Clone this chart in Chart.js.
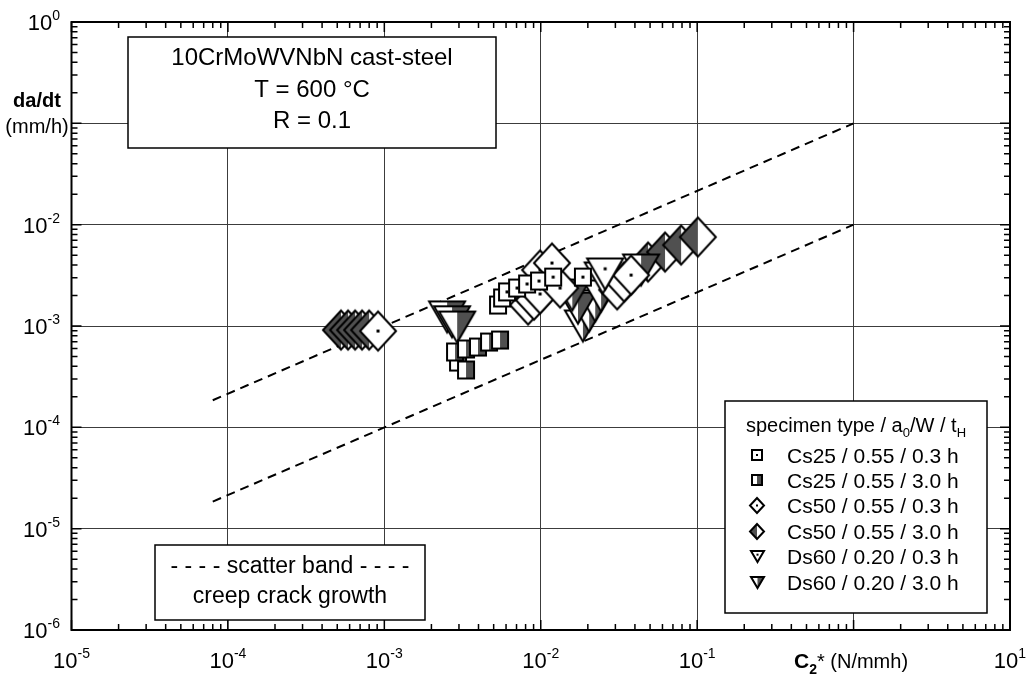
<!DOCTYPE html>
<html>
<head>
<meta charset="utf-8">
<script src="https://cdn.jsdelivr.net/npm/chart.js@4/dist/chart.umd.min.js"></script>
<style>
  html, body { margin: 0; padding: 0; background: #fff; }
  canvas { display: block; }
</style>
</head>
<body>
<canvas id="c" width="1030" height="684"></canvas>
<script>
// C2* (N/mmh) and crack growth rate da/dt (mm/h) for each specimen series
const cs25_03_c = [5.33e-3, 5.66e-3, 6.09e-3, 7.06e-3, 8.18e-3, 9.75e-3, 1.20e-2, 1.86e-2];
const cs25_03_r = [1.61e-3, 1.89e-3, 2.17e-3, 2.37e-3, 2.60e-3, 2.78e-3, 3.04e-3, 3.04e-3];
const cs25_30_c = [2.96e-3, 3.33e-3, 2.83e-3, 3.33e-3, 3.97e-3, 4.67e-3, 5.49e-3];
const cs25_30_r = [4.41e-4, 3.68e-4, 5.54e-4, 5.93e-4, 6.20e-4, 6.95e-4, 7.27e-4];
const cs50_03_c = [9.11e-4, 8.30e-3, 9.06e-3, 9.90e-3, 1.33e-2, 9.90e-3, 1.18e-2, 3.08e-2, 3.41e-2, 3.78e-2];
const cs50_03_r = [8.92e-4, 1.61e-3, 1.80e-3, 2.07e-3, 2.37e-3, 3.57e-3, 4.18e-3, 2.27e-3, 2.72e-3, 3.18e-3];
const cs50_30_c = [5.28e-4, 5.86e-4, 6.50e-4, 7.20e-4, 7.99e-4, 4.85e-2, 6.23e-2, 7.89e-2, 1.01e-1];
const cs50_30_r = [9.13e-4, 9.13e-4, 9.13e-4, 9.13e-4, 9.13e-4, 4.28e-3, 5.37e-3, 6.30e-3, 7.55e-3];
const ds60_03_c = [2.49e-2, 2.58e-2];
const ds60_03_r = [2.98e-3, 3.26e-3];
const ds60_30_c = [2.52e-3, 2.71e-3, 2.92e-3, 1.86e-2, 2.04e-2, 2.23e-2, 1.73e-2, 1.59e-2, 2.43e-2, 4.38e-2];
const ds60_30_r = [1.23e-3, 1.10e-3, 9.77e-4, 1.00e-3, 1.25e-3, 1.58e-3, 1.50e-3, 2.02e-3, 1.98e-3, 3.57e-3];

// scatter band of creep crack growth (two dashed bounds)
const bandC = [8e-5, 1];
const bandUpper = [1.85e-4, 0.1];
const bandLower = [1.85e-5, 0.01];

// decade exponents on the axes; an empty label leaves room for the axis title
const xExps = [-5, -4, -3, -2, -1, 0, 1];
const xExpLabels = ['-5', '-4', '-3', '-2', '-1', '', '1'];
const yExps = [0, -1, -2, -3, -4, -5, -6];
const yExpLabels = ['0', '', '-2', '-3', '-4', '-5', '-6'];

const seriesLabels = [
  'Cs25 / 0.55 / 0.3 h', 'Cs25 / 0.55 / 3.0 h',
  'Cs50 / 0.55 / 0.3 h', 'Cs50 / 0.55 / 3.0 h',
  'Ds60 / 0.20 / 0.3 h', 'Ds60 / 0.20 / 3.0 h'
];
const infoLines = ['10CrMoWVNbN cast-steel', 'T = 600 °C', 'R = 0.1'];
const bandLines = ['- - - - scatter band - - - -', 'creep crack growth'];

const FONT = '"Liberation Sans", Arial, Helvetica, sans-serif';
const f = (size, bold) => (bold ? 'bold ' : '') + size + 'px ' + FONT;
const SHADE = '#505050';

// marker bitmap: shape outline, white fill, optional half shading or centre dot
function makeMarker(shape, half, w, h, lw, dot) {
  const c = document.createElement('canvas');
  c.width = Math.ceil(w + lw * 2 + 2);
  c.height = Math.ceil(h + lw * 2 + 2);
  const g = c.getContext('2d');
  const cx = c.width / 2, cy = c.height / 2;
  const path = () => {
    g.beginPath();
    if (shape === 'square') {
      g.rect(cx - w / 2, cy - h / 2, w, h);
    } else if (shape === 'diamond') {
      g.moveTo(cx, cy - h / 2); g.lineTo(cx + w / 2, cy);
      g.lineTo(cx, cy + h / 2); g.lineTo(cx - w / 2, cy); g.closePath();
    } else {
      g.moveTo(cx - w / 2, cy - h / 2); g.lineTo(cx + w / 2, cy - h / 2);
      g.lineTo(cx, cy + h / 2); g.closePath();
    }
  };
  path(); g.fillStyle = '#fff'; g.fill();
  if (half) {
    g.save(); path(); g.clip();
    g.fillStyle = SHADE;
    if (half === 'left') g.fillRect(0, 0, cx, c.height);
    else g.fillRect(cx, 0, c.width - cx, c.height);
    g.restore();
  } else {
    const dy = shape === 'triangle' ? -h / 6 : 0;
    g.fillStyle = '#000';
    g.fillRect(cx - dot / 2, cy + dy - dot / 2, dot, dot);
  }
  path(); g.lineWidth = lw; g.strokeStyle = '#000'; g.lineJoin = 'miter'; g.stroke();
  return c;
}

const markerDefs = [
  ['square', null], ['square', 'right'],
  ['diamond', null], ['diamond', 'left'],
  ['triangle', null], ['triangle', 'right']
];
const plotSize = { square: [16, 17], diamond: [36, 39], triangle: [36, 31] };
const iconSize = { square: [10, 10], diamond: [14, 15], triangle: [13, 11] };
const plotMarkers = markerDefs.map(([s, h]) => makeMarker(s, h, plotSize[s][0], plotSize[s][1], 2, 3));
const iconMarkers = markerDefs.map(([s, h]) => makeMarker(s, h, iconSize[s][0], iconSize[s][1], 2, 2));

const pts = (cs, rs) => cs.map((c, i) => ({ x: c, y: rs[i] }));

const seriesData = [
  pts(cs25_03_c, cs25_03_r), pts(cs25_30_c, cs25_30_r),
  pts(cs50_03_c, cs50_03_r), pts(cs50_30_c, cs50_30_r),
  pts(ds60_03_c, ds60_03_r), pts(ds60_30_c, ds60_30_r)
];
// stacking: squares on top, shaded diamonds underneath
const seriesOrder = [1, 2, 4, 6, 3, 5];

const datasets = seriesData.map((d, i) => ({
  label: seriesLabels[i],
  data: d,
  pointStyle: plotMarkers[i],
  pointRadius: 10,
  pointHoverRadius: 10,
  order: seriesOrder[i]
}));
[bandUpper, bandLower].forEach((b, i) => datasets.push({
  label: 'band' + i,
  data: pts(bandC, b),
  showLine: true,
  borderColor: '#000',
  borderWidth: 2,
  borderDash: [9, 6],
  pointRadius: 0,
  order: 9
}));

function runsWidth(ctx, runs) {
  let w = 0;
  for (const r of runs) { ctx.font = r.font; w += ctx.measureText(r.t).width; }
  return w;
}
function drawRuns(ctx, runs, x, y, align) {
  const w = runsWidth(ctx, runs);
  let cx = align === 'right' ? x - w : align === 'center' ? x - w / 2 : x;
  ctx.textAlign = 'left'; ctx.textBaseline = 'alphabetic'; ctx.fillStyle = '#000';
  for (const r of runs) {
    ctx.font = r.font;
    ctx.fillText(r.t, cx, y + (r.dy || 0));
    cx += ctx.measureText(r.t).width;
  }
}
const pow10 = (e) => [{ t: '10', font: f(22) }, { t: e, font: f(14), dy: -10 }];

function textBox(ctx, x, y, w, h) {
  ctx.save();
  ctx.fillStyle = '#fff';
  ctx.fillRect(x, y, w, h);
  ctx.lineWidth = 1.5; ctx.strokeStyle = '#000';
  ctx.strokeRect(x, y, w, h);
  ctx.restore();
}

const decorations = {
  id: 'decorations',
  afterDraw(chart) {
    const { ctx, chartArea: a, scales: { x, y } } = chart;
    ctx.save();

    // minor and major ticks on all four sides, pointing inwards
    ctx.strokeStyle = '#000';
    ctx.lineWidth = 1.5;
    ctx.beginPath();
    for (let k = -5; k <= 0; k++) {
      for (let m = 1; m <= 9; m++) {
        const px = x.getPixelForValue(m * Math.pow(10, k));
        const len = m === 1 ? 10 : 6;
        ctx.moveTo(px, a.bottom); ctx.lineTo(px, a.bottom - len);
        ctx.moveTo(px, a.top); ctx.lineTo(px, a.top + len);
      }
    }
    for (let k = -6; k <= -1; k++) {
      for (let m = 1; m <= 9; m++) {
        const py = y.getPixelForValue(m * Math.pow(10, k));
        const len = m === 1 ? 10 : 6;
        ctx.moveTo(a.left, py); ctx.lineTo(a.left + len, py);
        ctx.moveTo(a.right, py); ctx.lineTo(a.right - len, py);
      }
    }
    ctx.stroke();

    // plot frame
    ctx.lineWidth = 2;
    ctx.strokeRect(a.left, a.top, a.right - a.left, a.bottom - a.top);

    // tick labels as powers of ten
    xExps.forEach((e, i) => {
      if (!xExpLabels[i]) return;
      drawRuns(ctx, pow10(xExpLabels[i]), x.getPixelForValue(Math.pow(10, e)), 668, 'center');
    });
    yExps.forEach((e, i) => {
      if (!yExpLabels[i]) return;
      drawRuns(ctx, pow10(yExpLabels[i]), 60, y.getPixelForValue(Math.pow(10, e)) + 8, 'right');
    });

    // axis titles
    drawRuns(ctx, [
      { t: 'C', font: f(21, true) }, { t: '2', font: f(14, true), dy: 6 },
      { t: '*', font: f(20) }, { t: ' (N/mmh)', font: f(20) }
    ], 794, 668, 'left');
    drawRuns(ctx, [{ t: 'da/dt', font: f(20, true) }], 37, 107, 'center');
    drawRuns(ctx, [{ t: '(mm/h)', font: f(20) }], 37, 133, 'center');

    // material / test condition box
    textBox(ctx, 128, 37, 368, 111);
    infoLines.forEach((t, i) => drawRuns(ctx, [{ t, font: f(24) }], 312, 65 + i * 31.5, 'center'));

    // scatter band box
    textBox(ctx, 155, 545, 270, 75);
    bandLines.forEach((t, i) => drawRuns(ctx, [{ t, font: f(23) }], 290, 573 + i * 30, 'center'));

    // legend
    textBox(ctx, 725, 401, 262, 212);
    drawRuns(ctx, [
      { t: 'specimen type / a', font: f(20) }, { t: '0', font: f(13), dy: 5 },
      { t: '/W / t', font: f(20) }, { t: 'H', font: f(13), dy: 5 }
    ], 856, 432, 'center');
    seriesLabels.forEach((lab, i) => {
      const ry = 455 + i * 25.4;
      const ic = iconMarkers[i];
      ctx.drawImage(ic, Math.round(757 - ic.width / 2), Math.round(ry - ic.height / 2));
      drawRuns(ctx, [{ t: lab, font: f(21) }], 787, ry + 7.5, 'left');
    });

    ctx.restore();
  }
};

const decadeTicks = (exps) => (scale) => {
  scale.ticks = exps.map(e => ({ value: Math.pow(10, e) }));
};

new Chart(document.getElementById('c'), {
  type: 'scatter',
  data: { datasets },
  options: {
    responsive: false,
    animation: false,
    devicePixelRatio: 1,
    layout: { padding: { left: 71.5, right: 20, top: 22, bottom: 54 } },
    plugins: { legend: { display: false }, tooltip: { enabled: false } },
    scales: {
      x: {
        type: 'logarithmic', min: 1e-5, max: 10,
        afterBuildTicks: decadeTicks(xExps),
        ticks: { display: false },
        grid: { color: '#3c3c3c', lineWidth: 1, drawTicks: false },
        border: { display: false }
      },
      y: {
        type: 'logarithmic', min: 1e-6, max: 1,
        afterBuildTicks: decadeTicks(yExps),
        ticks: { display: false },
        grid: { color: '#3c3c3c', lineWidth: 1, drawTicks: false },
        border: { display: false }
      }
    }
  },
  plugins: [decorations]
});
</script>
</body>
</html>
